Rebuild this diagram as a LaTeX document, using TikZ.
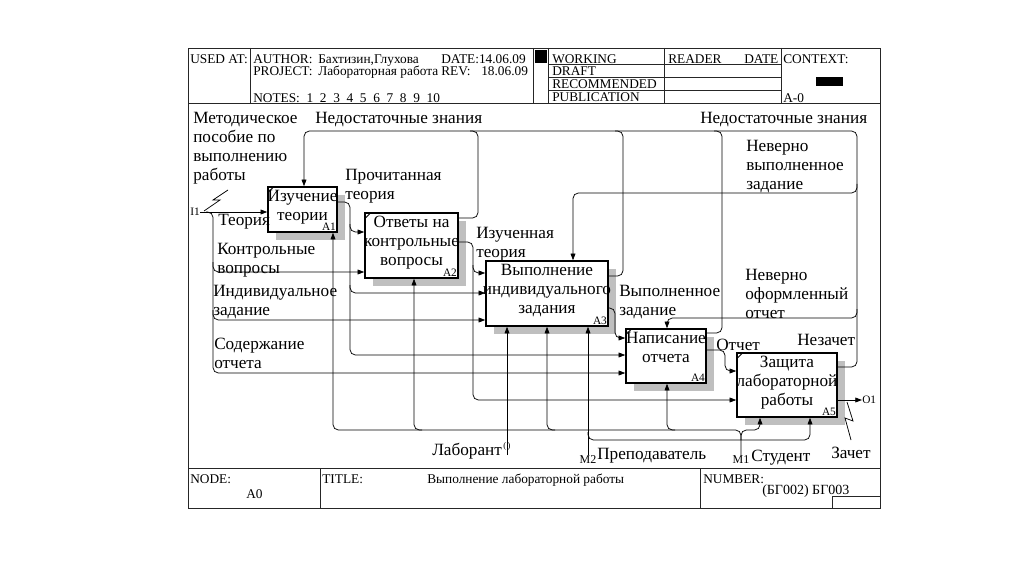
\documentclass[tikz,border=0pt]{standalone}
\usepackage{fontspec}
\setmainfont{Liberation Serif}
\usetikzlibrary{arrows.meta,shadows,calc}
\begin{document}
\begin{tikzpicture}[x=0.75pt,y=-0.75pt,
 fr/.style={line width=0.6pt, draw=black!85},
 boxst/.style={draw, line width=1.1pt, fill=white, inner sep=0pt,
   drop shadow={shadow xshift=6pt, shadow yshift=-6pt, fill=gray!50, opacity=1}},
 ln/.style={line width=0.55pt, rounded corners=4pt},
 arr/.style={ln, -{Triangle[length=5pt,width=3.6pt]}},
 lbl/.style={font=\fontsize{12.9}{14.25}\selectfont, inner sep=0pt, align=left, anchor=west, yshift=-1.5pt},
 btext/.style={font=\fontsize{12.9}{14.25}\selectfont, inner sep=0pt, align=center, anchor=north, yshift=-3pt},
 alab/.style={font=\fontsize{8.5}{9}\selectfont, inner sep=1.2pt, anchor=south east},
 hdr/.style={font=\fontsize{10}{11}\selectfont, inner sep=0pt, anchor=base west},
 ftr/.style={font=\fontsize{10}{12}\selectfont, inner sep=0pt, anchor=base west},
 small/.style={font=\fontsize{8.5}{9}\selectfont, inner sep=0pt},
]
\useasboundingbox (0,0) rectangle (1024,574);
\fill[white] (0,0) rectangle (1024,574);

% ---------- frame ----------
\draw[fr] (188,48) rectangle (880,508);
\draw[fr] (188,103) -- (880,103);
\draw[fr] (188,468) -- (880,468);
\foreach \xx in {250,533,548,664,781} \draw[fr] (\xx,48) -- (\xx,103);
\foreach \yy in {64,77,90} \draw[fr] (548,\yy) -- (781,\yy);
\fill (535,50) rectangle (547,63);
\fill (816,77) rectangle (843,86);
\draw[fr] (320,468) -- (320,508);
\draw[fr] (700,468) -- (700,508);
\draw[fr] (832,496) rectangle (880,508);

% header texts
\node[hdr] (h1) at (190,64) {USED AT:};
\node[hdr] (h2) at (253,64) {AUTHOR:};
\node[hdr] (h3) at (318,64) {Бахтизин,Глухова};
\node[hdr] (h4) at (441,64) {DATE:14.06.09};
\node[hdr] (h5) at (253,76) {PROJECT:};
\node[hdr] (h6) at (318,76) {Лабораторная работа};
\node[hdr] (h7) at (441,76) {REV:};
\node[hdr] (h8) at (481,76) {18.06.09};
\node[hdr] (h9) at (253,103) {NOTES:~~1~~2~~3~~4~~5~~6~~7~~8~~9~~10};
\node[hdr] (h10) at (552,63.5) {WORKING};
\node[hdr] (h11) at (552,76) {DRAFT};
\node[hdr] (h12) at (552,89) {RECOMMENDED};
\node[hdr] (h13) at (552,102) {PUBLICATION};
\node[hdr] (h14) at (668,63.5) {READER};
\node[hdr] (h15) at (744,63.5) {DATE};
\node[hdr] (h16) at (783,63.5) {CONTEXT:};
\node[hdr] (h17) at (783,103) {A-0};

% footer texts
\node[ftr] (f1) at (190,483) {NODE:};
\node[ftr] (f2) at (246,498) {A0};
\node[ftr] (f3) at (322,483) {TITLE:};
\node[ftr] (f4) at (427,483) {Выполнение лабораторной работы};
\node[ftr] (f5) at (703,483) {NUMBER:};
\node[ftr,font=\fontsize{10.5}{12}\selectfont] (f6) at (762,494) {(БГ002) БГ003};

% ---------- boxes ----------
\node[boxst, minimum width=51.75pt, minimum height=33.75pt] (A1) at (302.5,209.5) {};
\node[boxst, minimum width=69.75pt, minimum height=48.75pt] (A2) at (411.5,245.5) {};
\node[boxst, minimum width=91.5pt, minimum height=48.75pt] (A3) at (547,293.5) {};
\node[boxst, minimum width=60pt, minimum height=40.5pt] (A4) at (666,356) {};
\node[boxst, minimum width=75pt, minimum height=48pt] (A5) at (787,385) {};

\foreach \b in {A1,A2,A4,A5}
  \draw[line width=0.6pt] ($(\b.north west)+(1,6)$) -- ($(\b.north west)+(6,1)$);

\node[btext] (t1) at (A1.north) {Изучение\\теории};
\node[btext] (t2) at (A2.north) {Ответы на\\контрольные\\вопросы};
\node[btext] (t3) at (A3.north) {Выполнение\\индивидуального\\задания};
\node[btext] (t4) at (A4.north) {Написание\\отчета};
\node[btext] (t5) at (A5.north) {Защита\\лабораторной\\работы};
\node[alab] (n1) at (A1.south east) {A1};
\node[alab] (n2) at (A2.south east) {A2};
\node[alab] (n3) at (A3.south east) {A3};
\node[alab] (n4) at (A4.south east) {A4};
\node[alab] (n5) at (A5.south east) {A5};

% ---------- inputs ----------
\coordinate (i1) at (200,212);
\node[small, anchor=east] (i1t) at (i1) {I1};
\draw[arr] (i1) -- (i1 -| A1.west);
\draw[arr] (206,212) -| (213,373) -- (A4.west |- 0,373);
\draw[arr] (213,262) |- (A2.west |- 0,272);
\draw[arr] (213,310) |- (A3.west |- 0,320);
\draw[line width=0.55pt] (204,211) -- (220,200) -- (213,200) -- (228,190);

% ---------- outputs between boxes ----------
\draw[arr] (A1.east |- 0,202) -| (350,355) -- (A4.west |- 0,355);
\draw[arr] (350,224) |- (A2.west |- 0,232);
\draw[arr] (350,285) |- (A3.west |- 0,293);
\draw[arr] (A2.east |- 0,242) -| (473,400) -- (A5.west |- 0,400);
\draw[arr] (473,265) |- (A3.west |- 0,273);
\draw[arr] (A3.east |- 0,308) -| (615,338) -- (A4.west |- 0,338);
\draw[arr] (A4.east |- 0,350) -| (725,371) -- (A5.west |- 0,371);
\coordinate (o1) at (862,400);
\draw[arr] (A5.east |- 0,400) -- (o1);
\node[small, anchor=west] (o1t) at (o1) {O1};
\draw[line width=0.55pt] (847,402) -- (853,421) -- (845,418) -- (851,440);

% ---------- feedback ----------
\draw[arr] (A5.east |- 0,367) -| (857,131) -| (A1.north -| 304,0);
\draw[ln] (A2.east |- 0,218) -| (478,131) -- (470,131);
\draw[ln] (A3.east |- 0,276) -| (623,131) -- (615,131);
\draw[ln] (A4.east |- 0,333) -| (722,131) -- (714,131);
\draw[arr] (857,184) |- (573,193) -- (A3.north -| 573,0);
\draw[arr] (857,309) |- (667,318) -- (A4.north -| 667,0);

% ---------- mechanisms ----------
\coordinate (lab) at (507,455);
\draw[arr] (lab) -- (A3.south -| 507,0);
\node[font=\fontsize{6.5}{7}\selectfont, inner sep=0pt] (tun) at (507,446) {(\,)};
\coordinate (m2) at (588,455);
\draw[arr] (m2) -- (A3.south -| 588,0);
\draw[arr] (588,432) |- (810,440) -- (A5.south -| 810,0);
\coordinate (m1) at (741,455);
\draw[arr] (m1) |- (333,430) -- (A1.south -| 333,0);
\draw[arr] (422,430) -| (A2.south -| 414,0);
\draw[arr] (555,430) -| (A3.south -| 547,0);
\draw[arr] (675,430) -| (A4.south -| 667,0);
\draw[arr] (741,440) |- (760,430) -- (A5.south -| 760,0);
\node[small, font=\fontsize{9}{10}\selectfont, anchor=north] (m2t) at (m2) {M2};
\node[small, font=\fontsize{9}{10}\selectfont, anchor=north] (m1t) at (m1) {M1};

% ---------- labels ----------
\node[lbl] (l1) at (193,146.5) {Методическое\\пособие по\\выполнению\\работы};
\node[lbl] (l2) at (315,118) {Недостаточные знания};
\node[lbl] (l3) at (700,118) {Недостаточные знания};
\node[lbl] (l4) at (345,184) {Прочитанная\\теория};
\node[lbl] (l5) at (218,220) {Теория};
\node[lbl] (l6) at (217,258) {Контрольные\\вопросы};
\node[lbl] (l7) at (213,300.5) {Индивидуальное\\задание};
\node[lbl] (l8) at (214,351.5) {Содержание\\отчета};
\node[lbl] (l9) at (476,242.5) {Изученная\\теория};
\node[lbl] (l10) at (619,300) {Выполненное\\задание};
\node[lbl] (l11) at (746,165) {Неверно\\выполненное\\задание};
\node[lbl] (l12) at (745,292) {Неверно\\оформленный\\отчет};
\node[lbl] (l13) at (797,338) {Незачет};
\node[lbl] (l14) at (716,343) {Отчет};
\node[lbl] (l15) at (432,449) {Лаборант};
\node[lbl] (l16) at (597,454) {Преподаватель};
\node[lbl] (l17) at (751,456) {Студент};
\node[lbl] (l18) at (831,451) {Зачет};
\end{tikzpicture}
\end{document}
